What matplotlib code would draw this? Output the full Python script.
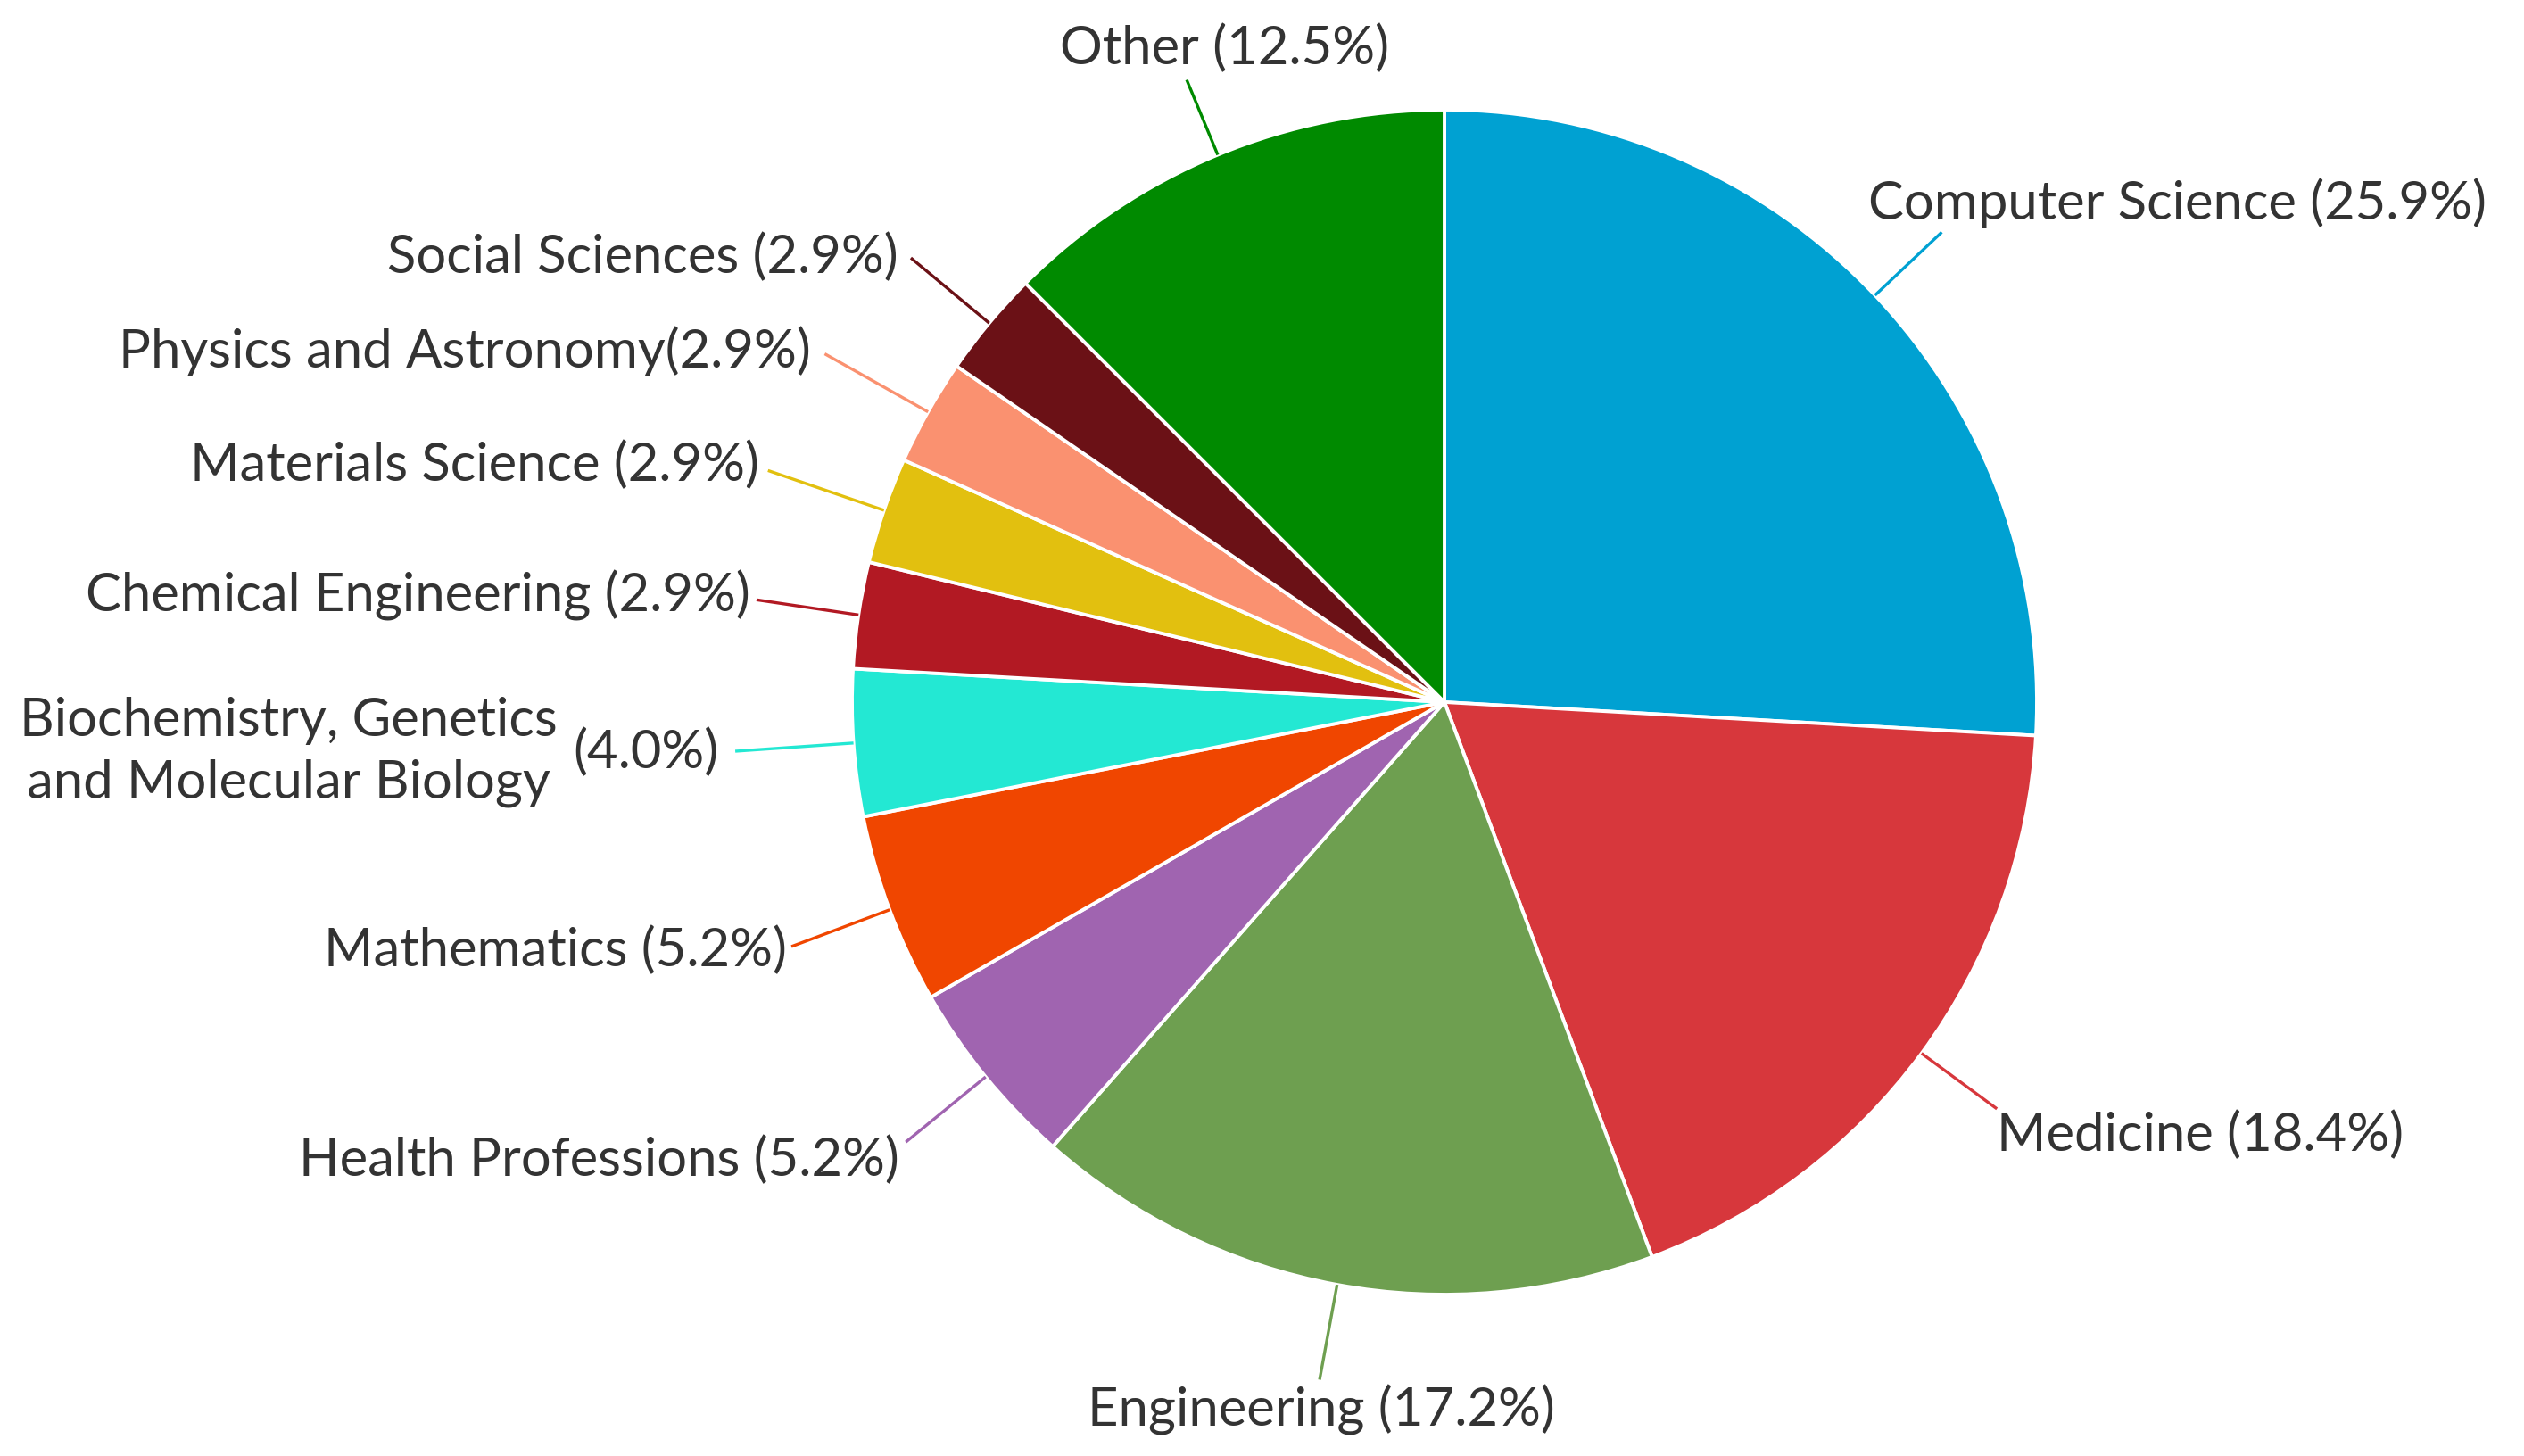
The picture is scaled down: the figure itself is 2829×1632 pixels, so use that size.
import numpy as np
import matplotlib.pyplot as plt

# ─── Data ─────────────────────────────────────────────────────────────────────
categories = ["Computer Science", "Medicine", "Engineering", "Health Professions",
              "Mathematics", "Biochemistry, Genetics\nand Molecular Biology",
              "Chemical Engineering", "Materials Science", "Physics and Astronomy",
              "Social Sciences", "Other"]
shares = [25.9, 18.4, 17.2, 5.2, 5.2, 4.0, 2.9, 2.9, 2.9, 2.9, 12.5]
colors = ["#00A1D2", "#D7373C", "#6E9F50", "#A064B0", "#F04600", "#23E8D3",
          "#B21923", "#E2C00F", "#FA9170", "#6B1116", "#008A00"]

# ─── Layout (pixels) ──────────────────────────────────────────────────────────
W, H, DPI = 2829, 1633, 100
cx, cy, R = 1619, H - 788, 664
# connector length (fraction of R) and label offset from connector end
leader = [0.155, 0.158, 0.163, 0.174, 0.177, 0.20, 0.174, 0.207, 0.20, 0.172, 0.137]
label_pos = [("left", -82, 34), ("left", 0, -29), ("center", 2, -33),
             ("right", -7, -19), ("right", -5, -3), ("right", -19, 0),
             ("right", -7, 6), ("right", -10, 7), ("right", -16, 4),
             ("right", -14, 2), ("center", 42, 36)]

FONT = ["Lato", "DejaVu Sans"]
TXT = "#333333"
FS = 43

fig = plt.figure(figsize=(W / DPI, H / DPI), dpi=DPI)
ax = fig.add_axes([0, 0, 1, 1])
wedges, _ = ax.pie(shares, colors=colors, startangle=90, counterclock=False,
                   center=(cx, cy), radius=R, frame=True,
                   wedgeprops=dict(edgecolor="white", linewidth=2.8))
ax.set_xlim(0, W)
ax.set_ylim(0, H)
ax.axis("off")

for i, w in enumerate(wedges):
    th = np.deg2rad((w.theta1 + w.theta2) / 2)
    x0, y0 = cx + R * np.cos(th), cy + R * np.sin(th)
    r1 = R * (1 + leader[i])
    x1, y1 = cx + r1 * np.cos(th), cy + r1 * np.sin(th)
    ax.plot([x0, x1], [y0, y1], color=colors[i], lw=2.4, solid_capstyle="butt")

    ha, dx, dy = label_pos[i]
    name = categories[i]
    pct = f"({shares[i]:.1f}%)"
    if "\n" in name:
        t = ax.annotate(pct, (x1, y1), xytext=(dx, dy), textcoords="offset pixels",
                        ha=ha, va="center", fontsize=FS, color=TXT, family=FONT)
        ax.annotate(name, (0, 0.5), xycoords=t, xytext=(-17, 0),
                    textcoords="offset pixels", ha="right", va="center",
                    multialignment="center", linespacing=1.35,
                    fontsize=FS, color=TXT, family=FONT)
        continue
    sep = "" if name.startswith("Physics") else " "
    ax.annotate(name + sep + pct, (x1, y1), xytext=(dx, dy), textcoords="offset pixels",
                ha=ha, va="center", fontsize=FS, color=TXT, family=FONT)

fig.savefig("out.png", dpi=DPI, facecolor="white")
